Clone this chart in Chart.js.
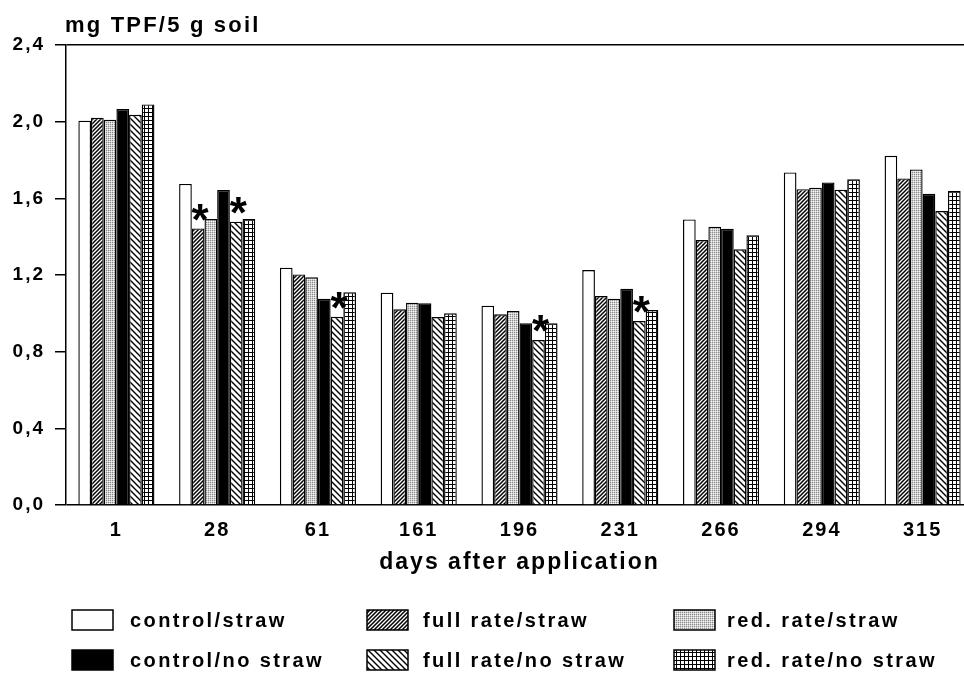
<!DOCTYPE html>
<html><head><meta charset="utf-8">
<script src="https://cdn.jsdelivr.net/npm/chart.js@4.4.1/dist/chart.umd.min.js"></script>
<style>html,body{margin:0;padding:0;background:#fff;overflow:hidden;width:964px;height:675px}canvas{display:block}</style>
</head><body><canvas id="c" width="980" height="675"></canvas>
<script>
const categories = ['1','28','61','161','196','231','266','294','315'];
const seriesNames = ['control/straw','full rate/straw','red. rate/straw','control/no straw','full rate/no straw','red. rate/no straw'];
const controlStraw   = [2.005,1.675,1.238,1.108,1.040,1.226,1.490,1.735,1.822];
const fullStraw      = [2.020,1.443,1.203,1.021,0.995,1.090,1.382,1.648,1.704];
const redStraw       = [2.010,1.492,1.188,1.055,1.012,1.076,1.452,1.655,1.751];
const controlNoStraw = [2.066,1.643,1.076,1.052,0.948,1.128,1.441,1.683,1.624];
const fullNoStraw    = [2.036,1.478,0.982,0.981,0.861,0.960,1.334,1.645,1.534];
const redNoStraw     = [2.090,1.492,1.110,1.000,0.948,1.017,1.408,1.699,1.638];
const yTickLabels = ['0,0','0,4','0,8','1,2','1,6','2,0','2,4'];
const yTitle = 'mg TPF/5 g soil';
const xTitle = 'days after application';
const significant = [[1,1],[1,4],[2,4],[4,4],[5,4]]; // [category index, series index]

const canvas = document.getElementById('c');
const ctx = canvas.getContext('2d');
const FONT = "'Liberation Sans', Arial, Helvetica, sans-serif";

function tile(w,h,draw){
  const t=document.createElement('canvas'); t.width=w; t.height=h;
  const x=t.getContext('2d'); x.fillStyle='#fff'; x.fillRect(0,0,w,h); draw(x);
  return ctx.createPattern(t,'repeat');
}
const fills = [
  '#ffffff',
  tile(4,4,x=>{x.strokeStyle='#000';x.lineWidth=1.5;x.beginPath();
    x.moveTo(-1,5);x.lineTo(5,-1);x.moveTo(-1,1);x.lineTo(1,-1);x.moveTo(3,5);x.lineTo(5,3);x.stroke();}),
  tile(2,2,x=>{x.fillStyle='#d0d0d0';x.fillRect(0,0,2,2);x.fillStyle='#8a8a8a';x.fillRect(0,0,1,1);x.fillStyle='#f4f4f4';x.fillRect(1,1,1,1);}),
  '#000000',
  tile(6,6,x=>{x.strokeStyle='#000';x.lineWidth=1.4;x.beginPath();
    x.moveTo(-1,-1);x.lineTo(7,7);x.moveTo(-1,5);x.lineTo(1,7);x.moveTo(5,-1);x.lineTo(7,1);x.stroke();}),
  tile(4,4,x=>{x.fillStyle='#000';x.fillRect(0,0,4,1);x.fillRect(0,0,1,4);})
];
const seriesData = [controlStraw,fullStraw,redStraw,controlNoStraw,fullNoStraw,redNoStraw];

const extras = {
  id:'extras',
  beforeDraw(chart){ chart.ctx.letterSpacing='2px'; },
  afterDatasetsDraw(chart){
    const c=chart.ctx; c.save();
    c.letterSpacing='0px';
    c.fillStyle='#000'; c.font="bold 44px "+FONT; c.textAlign='center'; c.textBaseline='alphabetic';
    significant.forEach(([ci,si])=>{
      const bar=chart.getDatasetMeta(si).data[ci];
      const cy = bar.y - 23;
      c.fillText('*', bar.x+2, cy + 0.67*44);
    });
    c.restore();
  },
  afterDraw(chart){
    const c=chart.ctx; c.save();
    c.fillStyle='#000'; c.textBaseline='alphabetic'; c.textAlign='left';
    c.letterSpacing='2.2px'; c.font="bold 22px "+FONT;
    c.fillText(yTitle, 65, 32);
    const boxX=[72,367,674], textX=[130,423,727], rowY=[620,660];
    c.font="bold 20px "+FONT; c.letterSpacing='2.4px'; c.textBaseline='middle';
    seriesNames.forEach((n,i)=>{
      const col=i%3,row=Math.floor(i/3);
      const bx=boxX[col], by=rowY[row]-10;
      c.fillStyle=fills[i]; c.fillRect(bx,by,41,20);
      c.strokeStyle='#000'; c.lineWidth=1.5; c.strokeRect(bx,by,41,20);
      c.fillStyle='#000'; c.fillText(n, textX[col], rowY[row]+1);
    });
    c.restore();
  }
};

new Chart(canvas,{
  type:'bar',
  data:{
    labels:categories,
    datasets:seriesData.map((d,i)=>({label:seriesNames[i],data:d,backgroundColor:fills[i],borderColor:'#000',borderWidth:1.4,borderSkipped:'bottom',categoryPercentage:0.755,barPercentage:1.0}))
  },
  options:{
    responsive:false, animation:false, devicePixelRatio:1,
    layout:{padding:{left:0,right:7,top:45,bottom:90}},
    plugins:{legend:{display:false},tooltip:{enabled:false},title:{display:false}},
    scales:{
      x:{
        grid:{display:false,drawTicks:false},
        border:{display:false},
        ticks:{color:'#000',padding:13,font:{family:FONT,size:20,weight:'bold'},maxRotation:0,autoSkip:false},
        title:{display:true,text:xTitle,color:'#000',font:{family:FONT,size:23,weight:'bold'},padding:{top:0,bottom:9}},
        afterFit(s){ s.height=80; }
      },
      y:{
        min:0,max:2.4,
        ticks:{stepSize:0.4,color:'#000',padding:10,font:{family:FONT,size:19,weight:'bold'},
          callback:(v,i)=>yTickLabels[i]},
        grid:{drawOnChartArea:true,drawTicks:true,tickLength:11,lineWidth:1.5,tickWidth:1.5,tickColor:'#000',
          color:(c)=>(c.index===0||c.index===yTickLabels.length-1)?'#000':'rgba(0,0,0,0)'},
        border:{display:true,color:'#000',width:1.5},
        afterFit(s){ s.width=66; }
      }
    }
  },
  plugins:[extras]
});
</script></body></html>
